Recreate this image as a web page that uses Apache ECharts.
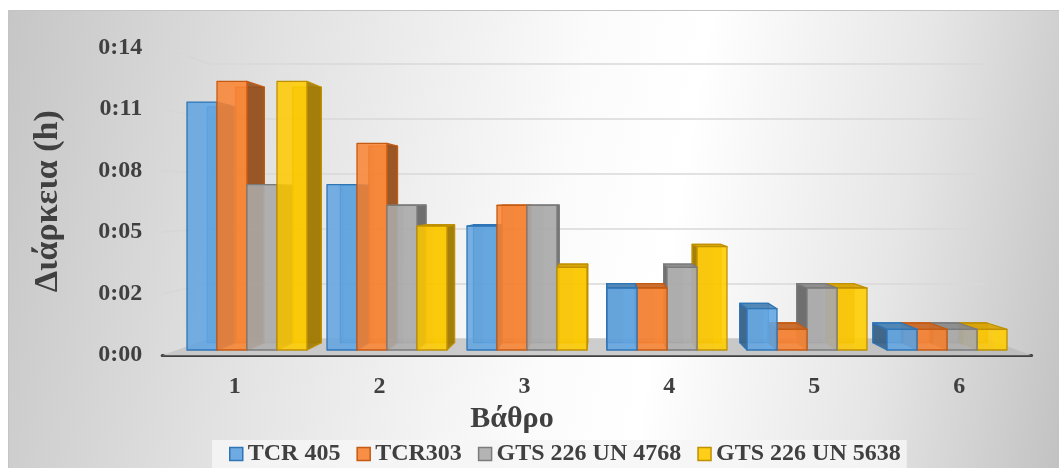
<!DOCTYPE html>
<html>
<head>
<meta charset="utf-8">
<script src="https://cdn.jsdelivr.net/npm/echarts@6/dist/echarts.min.js"></script>
<style>
  html, body { margin: 0; padding: 0; background: #ffffff; }
  #bg { position: absolute; left: 8px; top: 10px; width: 1051px; height: 458px;
        border-top: 1px solid #c4c4c4; border-left: 1px solid #c4c4c4; box-sizing: border-box;
        background: linear-gradient(100deg, #c6c6c6 0%, #e2e2e2 25%, #fbfbfb 52%, #ffffff 62%, #e6e6e6 82%, #c2c2c2 100%); }
  #chart { position: absolute; left: 0; top: 0; width: 1059px; height: 468px; }
</style>
</head>
<body>
<div id="bg"></div>
<div id="chart"></div>
<script>
// ---- data (minutes) ----
const categories = ['1', '2', '3', '4', '5', '6'];
const seriesNames = ['TCR 405', 'TCR303', 'GTS 226 UN 4768', 'GTS 226 UN 5638'];
const tcr405 = [12, 8, 6, 3, 2, 1];
const tcr303 = [13, 10, 7, 3, 1, 1];
const gts4768 = [8, 7, 7, 4, 3, 1];
const gts5638 = [13, 6, 4, 5, 3, 1];
const yTickLabels = ['0:00', '0:02', '0:05', '0:08', '0:11', '0:14'];
const TICK = 2.88;      // 0.002 day in minutes
const Y_MAX = 14.4;

// ---- styling / 3D look ----
const baseColors = ['#5b9bd5', '#ed7d31', '#a5a5a5', '#ffc000'];
const borderColors = ['#2e75b6', '#c55a11', '#7b7b7b', '#bf9000'];
const textColor = '#404040';
const FONT = 'Liberation Serif';
const VP = [600, 200];
const R_LABEL = 1.035, R_BACK = 0.924, R_BAR = 0.951;
const A = { left: 177, top: 52.5, width: 840, height: 297.5 };
const GAP_RATIO = 20 / 140;

function planeRect(r) {
  const x0 = VP[0] + (A.left - VP[0]) * r;
  const x1 = VP[0] + (A.left + A.width - VP[0]) * r;
  const y0 = VP[1] + (A.top - VP[1]) * r;
  const y1 = VP[1] + (A.top + A.height - VP[1]) * r;
  return { left: x0, top: y0, width: x1 - x0, height: y1 - y0 };
}
function proj(p, r) { return [VP[0] + (p[0] - VP[0]) * r, VP[1] + (p[1] - VP[1]) * r]; }
function rgba(hex, f, a) {
  const n = parseInt(hex.slice(1), 16);
  const r = Math.round(((n >> 16) & 255) * f), g = Math.round(((n >> 8) & 255) * f), b = Math.round((n & 255) * f);
  return 'rgba(' + Math.min(r,255) + ',' + Math.min(g,255) + ',' + Math.min(b,255) + ',' + a + ')';
}

const B = planeRect(R_LABEL);
const C = planeRect(R_BACK);

function barRenderer(s) {
  return function (params, api) {
    const cat = api.value(0), v = api.value(1);
    const base = api.coord([cat, 0]);
    const topP = api.coord([cat, v]);
    const band = api.size([1, 0])[0];
    const groupW = band * (1 - GAP_RATIO);
    const w = groupW / 4;
    const x0 = base[0] - groupW / 2 + s * w, x1 = x0 + w;
    const yt = topP[1], yb = base[1];
    const P = (x, y) => proj([x, y], R_BAR);
    const cx = (x0 + x1) / 2;
    const z = Math.round(1000 - Math.abs(cx - VP[0])) * 4;
    const col = baseColors[s], bcol = borderColors[s];
    const stroke = { stroke: bcol, lineWidth: 1.3, lineJoin: 'round' };
    const children = [];
    children.push({ type: 'polygon', z2: z,
      shape: { points: [P(x0, yt), P(x1, yt), P(x1, yb), P(x0, yb)] },
      style: Object.assign({ fill: rgba(col, 0.75, 0.6) }, stroke) });
    let side;
    if (cx < VP[0]) side = [[x1, yt], P(x1, yt), P(x1, yb), [x1, yb]];
    else side = [[x0, yt], P(x0, yt), P(x0, yb), [x0, yb]];
    children.push({ type: 'polygon', z2: z + 1, shape: { points: side },
      style: Object.assign({ fill: rgba(col, 0.62, 0.88) }, stroke) });
    if (yt > VP[1]) {
      children.push({ type: 'polygon', z2: z + 2,
        shape: { points: [[x0, yt], [x1, yt], P(x1, yt), P(x0, yt)] },
        style: Object.assign({ fill: rgba(col, 0.85, 0.9) }, stroke) });
    }
    children.push({ type: 'rect', z2: z + 3,
      shape: { x: x0, y: yt, width: x1 - x0, height: yb - yt },
      style: Object.assign({ fill: rgba(col, 1.05, 0.86) }, stroke) });
    children.push({ type: 'rect', z2: z + 3,
      shape: { x: x0 + (x1 - x0) * 0.55, y: yt + 1, width: (x1 - x0) * 0.4, height: Math.max(0, yb - yt - 2) },
      style: { fill: rgba(col, 1.12, 0.25) } });
    return { type: 'group', children: children };
  };
}

function decorRenderer(params, api) {
  const cs = params.coordSys;
  const xl = cs.x, xr = cs.x + cs.width;
  const y0 = api.coord([0, 0])[1];
  const fl = proj([xl, y0], R_LABEL), fr = proj([xr, y0], R_LABEL);
  const bl = proj([xl, y0], R_BACK), br = proj([xr, y0], R_BACK);
  const children = [{
    type: 'polygon', z2: 1,
    shape: { points: [bl, br, fr, fl] },
    style: { fill: new echarts.graphic.LinearGradient(0, 0, 1, 0, [
      { offset: 0, color: '#c8c8c8' }, { offset: 0.5, color: '#cdcdcd' }, { offset: 1, color: '#bdbdbd' }]) }
  }];
  for (let i = 1; i < yTickLabels.length; i++) {
    const y = api.coord([0, i * TICK])[1];
    const a = proj([xl, y], R_LABEL), b = proj([xl, y], R_BACK);
    children.push({ type: 'line', z2: 2,
      shape: { x1: a[0], y1: a[1], x2: b[0], y2: b[1] },
      style: { stroke: '#d6d6d6', lineWidth: 1.5 } });
  }
  return { type: 'group', children: children };
}

const seriesData = [tcr405, tcr303, gts4768, gts5638];
const series = [{
  type: 'custom', name: '_decor', xAxisIndex: 0, yAxisIndex: 0, z: 1,
  renderItem: decorRenderer, data: [[0, 0]], silent: true, legendHoverLink: false
}];
seriesData.forEach((arr, s) => {
  series.push({
    type: 'custom', name: seriesNames[s], xAxisIndex: 0, yAxisIndex: 0, z: 3,
    itemStyle: { color: baseColors[s], borderColor: borderColors[s] },
    renderItem: barRenderer(s),
    encode: { x: 0, y: 1 },
    data: arr.map((v, i) => [i, v])
  });
});

const chart = echarts.init(document.getElementById('chart'), null, { renderer: 'canvas' });
chart.setOption({
  animation: false,
  backgroundColor: 'transparent',
  textStyle: { fontFamily: FONT, color: textColor },
  grid: [
    Object.assign({ containLabel: false }, A),
    Object.assign({ containLabel: false }, B),
    Object.assign({ containLabel: false }, C)
  ],
  xAxis: [
    { gridIndex: 0, type: 'category', data: categories, show: false },
    { gridIndex: 1, type: 'category', data: categories,
      axisLine: { show: true, lineStyle: { color: '#404040', width: 3 } },
      axisTick: { show: false },
      axisLabel: { margin: 20, fontFamily: FONT, fontWeight: 'bold', fontSize: 24, color: textColor },
      name: 'Βάθρο', nameLocation: 'middle', nameGap: 42,
      nameTextStyle: { fontFamily: FONT, fontWeight: 'bold', fontSize: 30, color: textColor, padding: [0, 170, 0, 0] } },
    { gridIndex: 2, type: 'category', data: categories, show: false }
  ],
  yAxis: [
    { gridIndex: 0, type: 'value', min: 0, max: Y_MAX, interval: TICK, show: false },
    { gridIndex: 1, type: 'value', min: 0, max: Y_MAX, interval: TICK,
      axisLine: { show: false }, axisTick: { show: false }, splitLine: { show: false },
      axisLabel: { margin: 20, fontFamily: FONT, fontWeight: 'bold', fontSize: 24, color: textColor,
        formatter: v => yTickLabels[Math.round(v / TICK)] },
      name: 'Διάρκεια (h)', nameLocation: 'middle', nameGap: 97, nameRotate: 90,
      nameTextStyle: { fontFamily: FONT, fontWeight: 'bold', fontSize: 34, color: textColor } },
    { gridIndex: 2, type: 'value', min: 0, max: Y_MAX, interval: TICK,
      axisLine: { show: false }, axisTick: { show: false }, axisLabel: { show: false },
      splitLine: { show: true, lineStyle: { color: '#d9d9d9', width: 1.5 } } }
  ],
  legend: {
    left: 212, top: 440, padding: [2, 6, 2, 17],
    backgroundColor: 'rgba(246,246,246,0.85)',
    icon: 'rect', itemWidth: 13, itemHeight: 13, itemGap: 16,
    textStyle: { fontFamily: FONT, fontWeight: 'bold', fontSize: 24, color: textColor },
    data: seriesNames.map((n, s) => ({ name: n, itemStyle: { color: rgba(baseColors[s], 1.05, 0.9), borderColor: borderColors[s], borderWidth: 1.5 } }))
  },
  series: series
});
</script>
</body>
</html>
